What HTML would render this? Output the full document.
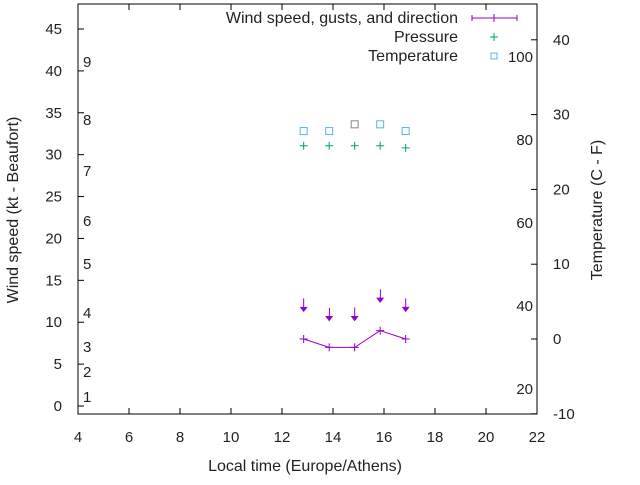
<!DOCTYPE html>
<html><head><meta charset="utf-8"><style>
body{margin:0;background:#fff}
svg text{font-family:"Liberation Sans",sans-serif;font-size:15px;fill:#222}
svg text.big{font-size:16px}
</style></head><body>
<svg id="c" width="640" height="480" viewBox="0 0 640 480"></svg>
<script>
const hours=[12.85,13.85,14.85,15.85,16.85];
const windSpeed=[8,7,7,9,8];
const gusts=[11.3,10.2,10.2,12.4,11.3];
const windDir=[0,10,0,10,0];
const pressure=[78.6,78.6,78.6,78.6,78.1];
const temperature=[27.8,27.8,28.7,28.7,27.8];
const xTicks=[4,6,8,10,12,14,16,18,20,22];
const yTicks=[0,5,10,15,20,25,30,35,40,45];
const tTicks=[-10,0,10,20,30,40];
const pTicks=[20,40,60,80,100];
const beaufort=[[1,397],[2,372],[3,347],[4,313],[5,264],[6,221],[7,171],[8,120],[9,62]];
const L=78,R=537,T=4,B=414;
const X=h=>L+(h-4)*(R-L)/18;
const Y=v=>406-v*377/45;
const TY=v=>339-v*7.48;
const PY=v=>389-(v-20)*4.15;
const svg=document.getElementById('c');
const NS='http://www.w3.org/2000/svg';
function el(tag,attrs,txt){const e=document.createElementNS(NS,tag);for(const k in attrs)e.setAttribute(k,attrs[k]);if(txt!==undefined)e.textContent=txt;svg.appendChild(e);return e;}
let e=el('rect',{x:L,y:T,width:R-L,height:B-T,fill:'none',stroke:'#000','stroke-width':1});


xTicks.forEach(t=>{const x=X(t);
 el('line',{x1:x,y1:B,x2:x,y2:B-6,stroke:'#000'});
 el('line',{x1:x,y1:T,x2:x,y2:T+6,stroke:'#000'});
 const tx=el('text',{x:x,y:442,'text-anchor':'middle'},t);
 
 });
yTicks.forEach(t=>{const y=Y(t);
 el('line',{x1:L,y1:y,x2:L+6,y2:y,stroke:'#000'});
 const tx=el('text',{x:62,y:y+5,'text-anchor':'end'},t);
 
 });
tTicks.forEach(t=>{const y=TY(t);
 el('line',{x1:R,y1:y,x2:R-6,y2:y,stroke:'#000'});
 const tx=el('text',{x:553,y:y+5,'text-anchor':'start'},t);
 
 });
pTicks.forEach(t=>{const tx=el('text',{x:533,y:PY(t)+5,'text-anchor':'end'},t);
 
 });
beaufort.forEach(b=>{const tx=el('text',{x:83,y:b[1]+5},b[0]);
 
 });
let t1=el('text',{x:305,y:471,'text-anchor':'middle','class':'big'},'Local time (Europe/Athens)');


let t2=el('text',{x:18,y:210,'text-anchor':'middle','class':'big',transform:'rotate(-90 18 210)'},'Wind speed (kt - Beaufort)');


let t3=el('text',{x:602,y:210,'text-anchor':'middle','class':'big',transform:'rotate(-90 602 210)'},'Temperature (C - F)');


const purple='#9400d3',green='#009e73',blue='#56b4e9';
let pts=hours.map((h,i)=>X(h)+','+Y(windSpeed[i])).join(' ');
let pl=el('polyline',{points:pts,fill:'none',stroke:purple,'stroke-width':1});


hours.forEach((h,i)=>{const x=X(h),y=Y(windSpeed[i]);
 const p=el('path',{d:`M${x-4},${y}h8M${x},${y-4}v8`,stroke:purple});
 
 
 const gy=Y(gusts[i]),a=windDir[i]*Math.PI/180;
 const ty=gy-Math.cos(a)*13;
 const ar=el('path',{d:`M${x+Math.sin(a)*13*0.15},${ty}L${x},${gy}M${x-3},${gy-4}L${x},${gy}L${x+3},${gy-4}Z`,stroke:purple,fill:purple,'stroke-width':1});
 
 
 const px=X(h),py=PY(pressure[i]);
 const pp=el('path',{d:`M${px-4},${py}h8M${px},${py-4}v8`,stroke:green});
 
 
 const ty2=TY(temperature[i]);
 const sq=el('rect',{x:px-3.5,y:ty2-3.5,width:7,height:7,fill:'none',stroke:i==2?'#888':blue});
 
 
});
let lg=[['Wind speed, gusts, and direction',18],['Pressure',37],['Temperature',56]];
lg.forEach(l=>{const tx=el('text',{x:458,y:l[1]+5,'text-anchor':'end','class':'big'},l[0]);
 
 });
let lw=el('path',{d:'M472,18h45M494,14v8M472,15v6M517,15v6',stroke:purple});


let lp=el('path',{d:'M490,37h8M494,33v8',stroke:green});


let lt=el('rect',{x:491,y:53,width:6,height:6,fill:'none',stroke:blue});


</script>
</body></html>
